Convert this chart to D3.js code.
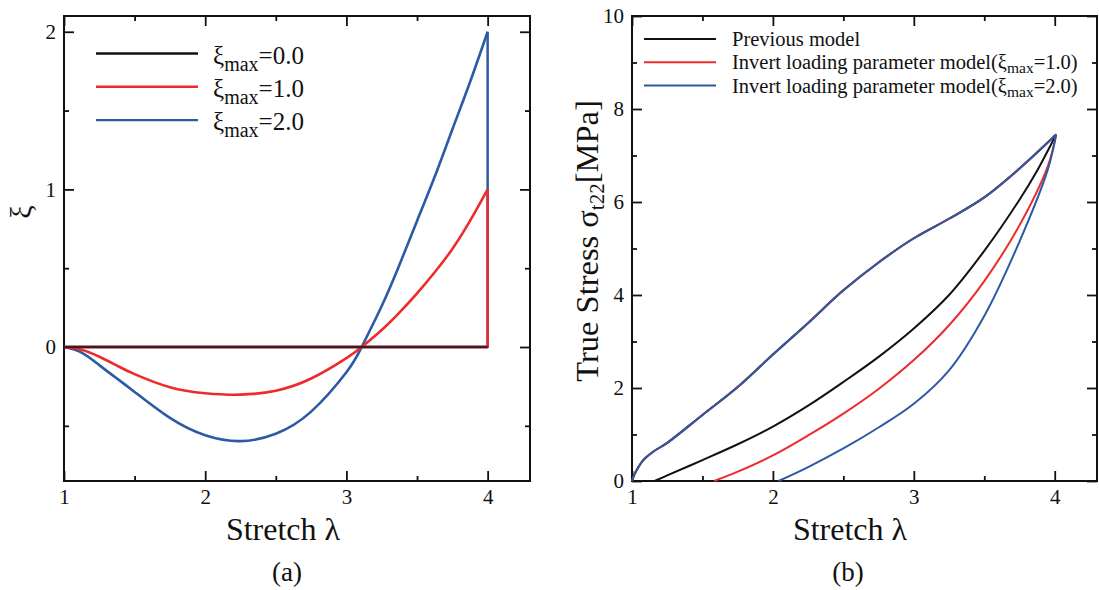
<!DOCTYPE html>
<html>
<head>
<meta charset="utf-8">
<script src="https://cdn.jsdelivr.net/npm/d3@7"></script>
<style>
  body { margin: 0; background: #fff; }
  svg text { font-family: 'Liberation Serif', 'DejaVu Serif', serif; fill: #111; }
</style>
</head>
<body>
<svg id="chart" width="1099" height="590"></svg>
<script>
/* global d3 */

// ---- (a) invert loading parameter xi vs stretch ----
const xiLambda = [1, 1.125, 1.25, 1.375, 1.5, 1.75, 2, 2.25, 2.5, 2.75, 3, 3.108, 3.25, 3.375, 3.5, 3.625, 3.75, 3.875, 4]
const xiMax0 = xiLambda.map(() => 0)
const xiMax1 = [0, -0.018, -0.062, -0.118, -0.172, -0.255, -0.293, -0.302, -0.277, -0.2, -0.07, 0, 0.108, 0.218, 0.34, 0.474, 0.622, 0.8, 1.0]
const xiMax2 = [0, -0.035, -0.115, -0.2, -0.285, -0.45, -0.56, -0.597, -0.55, -0.41, -0.16, 0, 0.26, 0.52, 0.8, 1.08, 1.38, 1.68, 2.0]
// unloading: xi drops to zero at the max stretch and stays there
const xiUnloadLambda = [4, 4, 1]
const xiUnload1 = [1.0, 0, 0]
const xiUnload2 = [2.0, 0, 0]
const xiLabels = ['0.0', '1.0', '2.0']

// ---- (b) true stress vs stretch ----
const loadLambda = [1, 1.02, 1.04, 1.08, 1.15, 1.25, 1.5, 1.75, 2, 2.25, 2.5, 2.75, 3, 3.25, 3.5, 3.75, 4.01]
const loadStress = [0, 0.16, 0.27, 0.45, 0.63, 0.82, 1.42, 2.02, 2.72, 3.4, 4.1, 4.7, 5.22, 5.64, 6.1, 6.72, 7.45]
const prevLambda = [1.16, 1.25, 1.5, 1.75, 2, 2.25, 2.5, 2.75, 3, 3.25, 3.5, 3.75, 3.88, 4.01]
const prevStress = [0, 0.12, 0.45, 0.79, 1.17, 1.62, 2.13, 2.67, 3.28, 4.0, 4.95, 6.05, 6.7, 7.45]
const inv1Lambda = [1.584, 1.75, 2, 2.25, 2.5, 2.75, 3, 3.25, 3.5, 3.75, 3.95, 4.01]
const inv1Stress = [0, 0.2, 0.55, 0.98, 1.45, 1.98, 2.6, 3.35, 4.3, 5.5, 6.76, 7.45]
const inv2Lambda = [2.04, 2.25, 2.5, 2.75, 3, 3.25, 3.5, 3.75, 3.95, 4.01]
const inv2Stress = [0, 0.3, 0.7, 1.15, 1.66, 2.38, 3.55, 5.15, 6.69, 7.45]
const stressLabels = ['Previous model', '1.0', '2.0']

const xTicks = [1, 2, 3, 4],
  xMinor = [1.5, 2.5, 3.5]
const xiTicks = [0, 1, 2],
  xiMinor = [-0.5, 0.5, 1.5]
const stressTicks = [0, 2, 4, 6, 8, 10],
  stressMinor = [1, 3, 5, 7, 9]

const black = '#111111',
  red = '#ee2b2b',
  blue = '#2c5aa5'

const plotTop = 16,
  plotBottom = 481

let svg = d3.select('#chart')

let xA = d3.scaleLinear().domain([1, 4.3]).range([64, 530])
let yA = d3.scaleLinear().domain([-0.85, 2.1]).range([plotBottom, plotTop])
let xB = d3.scaleLinear().domain([1, 4.3]).range([632, 1097])
let yB = d3.scaleLinear().domain([0, 10]).range([plotBottom, plotTop])

let zip = (xs, ys) => xs.map((d, i) => [d, ys[i]])

// frame with inward ticks on all four sides
let drawAxes = (x, y, xMaj, xMin, yMaj, yMin) => {
  const [x0, x1] = x.range()
  const g = svg.append('g')
  const fontIt = sel => sel.selectAll('text')
    .attr('font-size', 21)
    .attr('fill', '#111')
  const clean = sel => {
    sel.attr('font-family', null)
    sel.select('.domain').remove()
    sel.selectAll('line').attr('stroke', '#111').attr('stroke-width', 1.8)
  }
  const add = (axis, tx, ty, vals, size, labels) => {
    const a = axis.tickValues(vals).tickSize(-size).tickPadding(8)
    if(!labels) a.tickFormat('')
    else a.tickFormat(d3.format('d'))
    g.append('g').attr('transform', `translate(${tx},${ty})`).call(a).call(clean).call(fontIt)
  }
  add(d3.axisBottom(x), 0, plotBottom, xMaj, 10, true)
  add(d3.axisBottom(x), 0, plotBottom, xMin, 5, false)
  add(d3.axisTop(x), 0, plotTop, xMaj, 10, false)
  add(d3.axisTop(x), 0, plotTop, xMin, 5, false)
  add(d3.axisLeft(y), x0, 0, yMaj, 10, true)
  add(d3.axisLeft(y), x0, 0, yMin, 5, false)
  add(d3.axisRight(y), x1, 0, yMaj, 10, false)
  add(d3.axisRight(y), x1, 0, yMin, 5, false)

  g.append('rect')
    .attr('x', x0).attr('y', plotTop)
    .attr('width', x1 - x0).attr('height', plotBottom - plotTop)
    .attr('fill', 'none').attr('stroke', '#111').attr('stroke-width', 2)
}

let drawLine = (x, y, pts, color, width, curve, opacity) => {
  svg.append('path')
    .datum(pts)
    .attr('fill', 'none')
    .attr('stroke', color)
    .attr('stroke-width', width)
    .attr('stroke-opacity', opacity || 1)
    .attr('stroke-linejoin', 'round')
    .attr('d', d3.line().x(d => x(d[0])).y(d => y(d[1])).curve(curve))
}

// ---------- panel (a) ----------
drawAxes(xA, yA, xTicks, xMinor, xiTicks, xiMinor)
drawLine(xA, yA, zip(xiUnloadLambda, xiUnload2), blue, 2.5, d3.curveLinear)
drawLine(xA, yA, zip(xiLambda, xiMax2), blue, 2.6, d3.curveNatural)
drawLine(xA, yA, zip(xiUnloadLambda, xiUnload1), red, 2.5, d3.curveLinear)
drawLine(xA, yA, zip(xiLambda, xiMax1), red, 2.6, d3.curveNatural)
drawLine(xA, yA, zip(xiLambda, xiMax0), black, 2.4, d3.curveLinear, 0.75)

let legA = svg.append('g')
const legAColors = [black, red, blue]
xiLabels.forEach((lab, i) => {
  const ly = 53.5 + i * 33.3
  legA.append('line')
    .attr('x1', 96).attr('x2', 198).attr('y1', ly).attr('y2', ly)
    .attr('stroke', legAColors[i]).attr('stroke-width', 2.4)
  const t = legA.append('text').attr('x', 213).attr('y', ly + 10).attr('font-size', 25)
  t.append('tspan').text('ξ')
  t.append('tspan').attr('font-size', 20).attr('dy', 7).text('max')
  t.append('tspan').attr('dy', -7).text('=' + lab)
})

svg.append('text')
  .attr('transform', 'translate(31,212) rotate(-90)')
  .attr('text-anchor', 'middle')
  .attr('font-size', 30)
  .text('ξ')

svg.append('text')
  .attr('x', 283).attr('y', 540)
  .attr('text-anchor', 'middle')
  .attr('font-size', 32)
  .text('Stretch λ')

svg.append('text')
  .attr('x', 287).attr('y', 581)
  .attr('text-anchor', 'middle')
  .attr('font-size', 27)
  .text('(a)')

// ---------- panel (b) ----------
drawAxes(xB, yB, xTicks, xMinor, stressTicks, stressMinor)
const smooth = d3.curveCatmullRom.alpha(0.5)
const load = zip(loadLambda, loadStress)
drawLine(xB, yB, load, black, 2, smooth)
drawLine(xB, yB, zip(prevLambda, prevStress), black, 2, smooth)
drawLine(xB, yB, load, red, 2, smooth)
drawLine(xB, yB, zip(inv1Lambda, inv1Stress), red, 2, smooth)
drawLine(xB, yB, load, blue, 2, smooth)
drawLine(xB, yB, zip(inv2Lambda, inv2Stress), blue, 2, smooth)

let legB = svg.append('g')
stressLabels.forEach((lab, i) => {
  const ly = 39 + i * 23.3
  legB.append('line')
    .attr('x1', 644).attr('x2', 716).attr('y1', ly).attr('y2', ly)
    .attr('stroke', legAColors[i]).attr('stroke-width', 2)
  const t = legB.append('text').attr('x', 732).attr('y', ly + 7).attr('font-size', 20.5)
  if(i === 0) t.text(lab)
  else {
    t.append('tspan').text('Invert loading parameter model(ξ')
    t.append('tspan').attr('font-size', 15.5).attr('dy', 4).text('max')
    t.append('tspan').attr('dy', -4).text('=' + lab + ')')
  }
})

let yLabB = svg.append('text')
  .attr('transform', 'translate(598,241) rotate(-90)')
  .attr('text-anchor', 'middle')
  .attr('font-size', 32.5)
yLabB.append('tspan').text('True Stress σ')
yLabB.append('tspan').attr('font-size', 21).attr('dy', 6).text('t22')
yLabB.append('tspan').attr('dy', -6).text('[MPa]')

svg.append('text')
  .attr('x', 850).attr('y', 540)
  .attr('text-anchor', 'middle')
  .attr('font-size', 32)
  .text('Stretch λ')

svg.append('text')
  .attr('x', 848).attr('y', 581)
  .attr('text-anchor', 'middle')
  .attr('font-size', 27)
  .text('(b)')
</script>
</body>
</html>
